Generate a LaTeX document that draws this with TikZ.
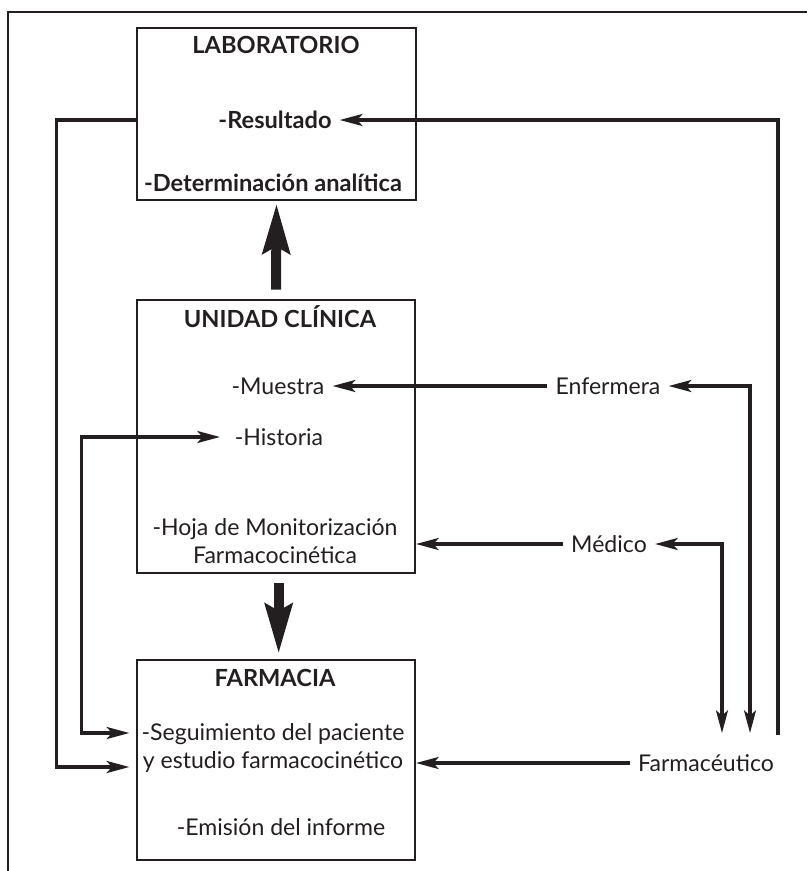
\documentclass[tikz,border=0pt]{standalone}
\usepackage{fontspec}
\setmainfont{Lato}
\usepackage{tikz}
\usetikzlibrary{arrows.meta}
\definecolor{tinta}{HTML}{231F20}

\begin{document}
\begin{tikzpicture}[x=0.75pt,y=-0.75pt,
    caja/.style={draw=tinta,line width=1.5pt},
    txt/.style={inner xsep=6pt,inner ysep=2pt,text=tinta,align=center,font=\fontsize{17.3}{21}\selectfont},
    tit/.style={txt,font=\fontsize{17.7}{21}\selectfont\bfseries},
    linea/.style={draw=tinta,line width=2.3pt},
    flecha/.style={linea,-{Stealth[length=17pt,width=9pt,inset=4pt]}},
    doble/.style={linea,{Stealth[length=17pt,width=9pt,inset=4pt]}-{Stealth[length=17pt,width=9pt,inset=4pt]}},
    gruesa/.style={draw=tinta,line width=7.5pt,-{Stealth[length=37pt,width=20pt,inset=5pt]}}]
  \useasboundingbox (0,0) rectangle (807,871);
  % marco
  \draw[tinta,line width=1.6pt] (8,871) -- (8,12) -- (807,12);
  % cajas
  \node[caja,minimum width=209pt,minimum height=129pt] (lab) at (276.5,114) {};
  \node[caja,minimum width=208.5pt,minimum height=204.75pt] (uc) at (276,436.5) {};
  \node[caja,minimum width=208.5pt,minimum height=150pt] (far) at (276,760) {};
  % textos
  \node[tit] (labt) at (276,45) {LABORATORIO};
  \node[tit] (res) at (275,120) {-Resultado};
  \node[tit] (det) at (273,183) {-Determinación analítica};
  \node[tit] (uct) at (280,317) {UNIDAD CLÍNICA};
  \node[txt] (mue) at (278,386) {-Muestra};
  \node[txt] (his) at (279,437) {-Historia};
  \node[txt] (hoja) at (275,541) {-Hoja de Monitorización\\Farmacocinética};
  \node[tit] (fart) at (275,678) {FARMACIA};
  \node[txt] (seg) at (273,748) {-Seguimiento del paciente\\y estudio farmacocinético};
  \node[txt] (emi) at (281,827) {-Emisión del informe};
  \node[txt] (enf) at (608,386) {Enfermera};
  \node[txt] (med) at (609,544) {Médico};
  \node[txt] (fcu) at (706,763) {Farmacéutico};
  % extremos
  \coordinate (pm) at (722,733);
  \coordinate (pe) at (750,733);
  \coordinate (pr) at (778,735);
  \coordinate (ent1) at (0,767);
  \coordinate (ent2) at (0,733);

  \draw[gruesa,shorten <=7pt,shorten >=2pt] (uc.north) -- (lab.south);
  \draw[gruesa,shorten <=7pt,shorten >=4pt] ([xshift=2pt]uc.south) -- ([xshift=2pt]far.north);
  \draw[flecha] (pr) |- (res.east);
  \draw[doble] (enf.east) -| (pe);
  \draw[doble] (med.east) -| (pm);
  \draw[flecha] (enf.west) -- (mue.east);
  \draw[flecha] (med.west) -- (uc.east |- med.west);
  \draw[flecha] (fcu.west) -- (far.east |- fcu.west);
  \draw[flecha] (lab.west |- res) -- ++(-80,0) |- ([xshift=-5pt]far.west |- ent1);
  \draw[doble,shorten <=5pt] (his.west) -- ++(-145,0) |- ([xshift=-5pt]far.west |- ent2);
\end{tikzpicture}
\end{document}
